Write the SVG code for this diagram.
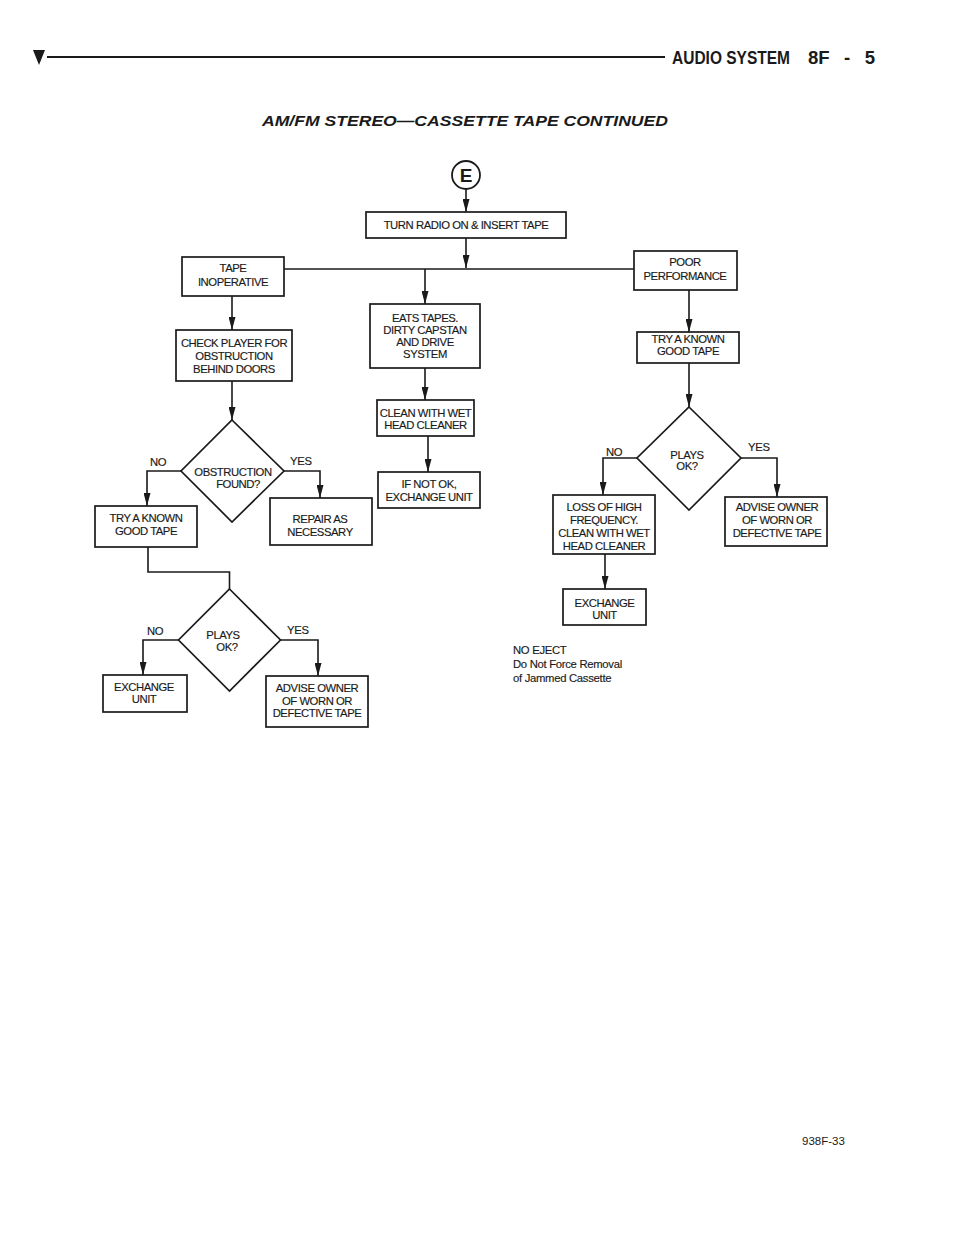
<svg xmlns="http://www.w3.org/2000/svg" width="960" height="1242" viewBox="0 0 960 1242">
<style>
.box{fill:#fff;stroke:#1a1a1a;stroke-width:1.7}
.t{font-family:"Liberation Sans",Arial,sans-serif;font-size:11.3px;letter-spacing:-0.45px;fill:#1a1a1a;stroke:#1a1a1a;stroke-width:0.15;text-anchor:middle}
.lab{font-family:"Liberation Sans",Arial,sans-serif;font-size:11.3px;letter-spacing:-0.3px;fill:#1a1a1a;stroke:#1a1a1a;stroke-width:0.15}
.c{fill:none;stroke:#1a1a1a;stroke-width:1.6}
.hd{font-family:"Liberation Sans",Arial,sans-serif;font-weight:bold;font-size:18px;fill:#1a1a1a}
</style>
<defs>
<marker id="ah" viewBox="0 0 13 7" refX="13" refY="3.5" markerWidth="13" markerHeight="7" markerUnits="userSpaceOnUse" orient="auto">
<path d="M0,0 L13,3.5 L0,7 z" fill="#1a1a1a"/>
</marker>
</defs>
<rect width="960" height="1242" fill="#fff"/>

<g id="header">
<polygon points="33,50 45,50 39,65" fill="#1a1a1a"/>
<line x1="47" y1="57" x2="665" y2="57" stroke="#1a1a1a" stroke-width="2"/>
<text class="hd" x="672" y="64" textLength="118" lengthAdjust="spacingAndGlyphs">AUDIO SYSTEM</text>
<text class="hd" x="808" y="64" word-spacing="9" textLength="67" lengthAdjust="spacingAndGlyphs">8F - 5</text>
<text x="262" y="126" font-family="'Liberation Sans',Arial,sans-serif" font-weight="bold" font-style="italic" font-size="14" fill="#1a1a1a" textLength="406" lengthAdjust="spacingAndGlyphs">AM/FM STEREO—CASSETTE TAPE CONTINUED</text>
</g>

<g id="connectors">
<path class="c" d="M466,189 V212" marker-end="url(#ah)"/>
<path class="c" d="M466,238 V268" marker-end="url(#ah)"/>
<path class="c" d="M284,269 H634"/>
<path class="c" d="M425,269 V304" marker-end="url(#ah)"/>
<path class="c" d="M232,296 V330" marker-end="url(#ah)"/>
<path class="c" d="M232,381 V420" marker-end="url(#ah)"/>
<path class="c" d="M181,471 H147 V506" marker-end="url(#ah)"/>
<path class="c" d="M284,471 H320 V498" marker-end="url(#ah)"/>
<path class="c" d="M148,547 V572 H229.5 V589"/>
<path class="c" d="M178.5,640 H143 V675" marker-end="url(#ah)"/>
<path class="c" d="M280.5,640 H318 V676" marker-end="url(#ah)"/>
<path class="c" d="M425,368 V400" marker-end="url(#ah)"/>
<path class="c" d="M428,436 V472" marker-end="url(#ah)"/>
<path class="c" d="M689,290 V332" marker-end="url(#ah)"/>
<path class="c" d="M689,363 V407" marker-end="url(#ah)"/>
<path class="c" d="M637,458 H603 V495" marker-end="url(#ah)"/>
<path class="c" d="M741,458 H777 V497" marker-end="url(#ah)"/>
<path class="c" d="M605,554 V589" marker-end="url(#ah)"/>
</g>

<g id="E">
<circle cx="466" cy="175" r="14" fill="#fff" stroke="#1a1a1a" stroke-width="1.8"/>
<text x="466" y="182" font-family="'Liberation Sans',Arial,sans-serif" font-weight="bold" font-size="19" fill="#1a1a1a" text-anchor="middle">E</text>
</g>

<g id="turn-radio">
<rect class="box" x="366" y="212" width="200" height="26"/>
<text class="t" x="466" y="229">TURN RADIO ON &amp; INSERT TAPE</text>
</g>

<g id="tape-inoperative">
<rect class="box" x="182" y="257" width="102" height="39"/>
<text class="t" x="233" y="272">TAPE</text>
<text class="t" x="233" y="286">INOPERATIVE</text>
</g>

<g id="poor-performance">
<rect class="box" x="634" y="251" width="103" height="39"/>
<text class="t" x="685" y="266">POOR</text>
<text class="t" x="685" y="280">PERFORMANCE</text>
</g>

<g id="check-player">
<rect class="box" x="176" y="330" width="116" height="51"/>
<text class="t" x="234" y="346.5">CHECK PLAYER FOR</text>
<text class="t" x="234" y="359.5">OBSTRUCTION</text>
<text class="t" x="234" y="373">BEHIND DOORS</text>
</g>

<g id="obstruction-found">
<polygon class="box" points="232,420 284,471 232,522 181,471"/>
<text class="t" x="233" y="475.5">OBSTRUCTION</text>
<text class="t" x="238" y="488">FOUND?</text>
<text class="lab" x="150" y="466">NO</text>
<text class="lab" x="290" y="465">YES</text>
</g>

<g id="try-known-left">
<rect class="box" x="95" y="506" width="102" height="41"/>
<text class="t" x="146" y="522">TRY A KNOWN</text>
<text class="t" x="146" y="534.5">GOOD TAPE</text>
</g>

<g id="repair">
<rect class="box" x="270" y="498" width="102" height="47"/>
<text class="t" x="320" y="523">REPAIR AS</text>
<text class="t" x="320" y="535.5">NECESSARY</text>
</g>

<g id="plays-ok-left">
<polygon class="box" points="229.5,589 280.5,640 229.5,691 178.5,640"/>
<text class="t" x="223" y="639">PLAYS</text>
<text class="t" x="227" y="650.5">OK?</text>
<text class="lab" x="147" y="635">NO</text>
<text class="lab" x="287" y="634">YES</text>
</g>

<g id="exchange-left">
<rect class="box" x="103" y="675" width="84" height="37"/>
<text class="t" x="144" y="690.5">EXCHANGE</text>
<text class="t" x="144" y="703">UNIT</text>
</g>

<g id="advise-left">
<rect class="box" x="266" y="676" width="102" height="51"/>
<text class="t" x="317" y="691.5">ADVISE OWNER</text>
<text class="t" x="317" y="704.5">OF WORN OR</text>
<text class="t" x="317" y="717">DEFECTIVE TAPE</text>
</g>

<g id="eats-tapes">
<rect class="box" x="370" y="304" width="110" height="64"/>
<text class="t" x="425" y="321.5">EATS TAPES.</text>
<text class="t" x="425" y="333.5">DIRTY CAPSTAN</text>
<text class="t" x="425" y="345.5">AND DRIVE</text>
<text class="t" x="425" y="357.5">SYSTEM</text>
</g>

<g id="clean-wet">
<rect class="box" x="377" y="400" width="97" height="36"/>
<text class="t" x="425.5" y="417">CLEAN WITH WET</text>
<text class="t" x="425.5" y="429">HEAD CLEANER</text>
</g>

<g id="if-not-ok">
<rect class="box" x="378" y="472" width="102" height="36"/>
<text class="t" x="429" y="488">IF NOT OK,</text>
<text class="t" x="429" y="500.5">EXCHANGE UNIT</text>
</g>

<g id="try-known-right">
<rect class="box" x="637" y="332" width="102" height="31"/>
<text class="t" x="688" y="342.5">TRY A KNOWN</text>
<text class="t" x="688" y="354.5">GOOD TAPE</text>
</g>

<g id="plays-ok-right">
<polygon class="box" points="689,407 741,458 689,510 637,458"/>
<text class="t" x="687" y="459">PLAYS</text>
<text class="t" x="687" y="470">OK?</text>
<text class="lab" x="606" y="456">NO</text>
<text class="lab" x="748" y="451">YES</text>
</g>

<g id="loss-high">
<rect class="box" x="553" y="495" width="102" height="59"/>
<text class="t" x="604" y="510.5">LOSS OF HIGH</text>
<text class="t" x="604" y="523.5">FREQUENCY.</text>
<text class="t" x="604" y="536.5">CLEAN WITH WET</text>
<text class="t" x="604" y="549.5">HEAD CLEANER</text>
</g>

<g id="advise-right">
<rect class="box" x="725" y="497" width="102" height="49"/>
<text class="t" x="777" y="510.5">ADVISE OWNER</text>
<text class="t" x="777" y="523.5">OF WORN OR</text>
<text class="t" x="777" y="536.5">DEFECTIVE TAPE</text>
</g>

<g id="exchange-right">
<rect class="box" x="563" y="589" width="83" height="36"/>
<text class="t" x="604.5" y="606.5">EXCHANGE</text>
<text class="t" x="604.5" y="619">UNIT</text>
</g>

<g id="no-eject">
<text class="lab" x="513" y="654" font-size="11.5">NO EJECT</text>
<text class="lab" x="513" y="668" font-size="11">Do Not Force Removal</text>
<text class="lab" x="513" y="682" font-size="11">of Jammed Cassette</text>
</g>

<text x="802" y="1145" font-family="'Liberation Sans',Arial,sans-serif" font-size="11.5" fill="#1a1a1a">938F-33</text>
</svg>
